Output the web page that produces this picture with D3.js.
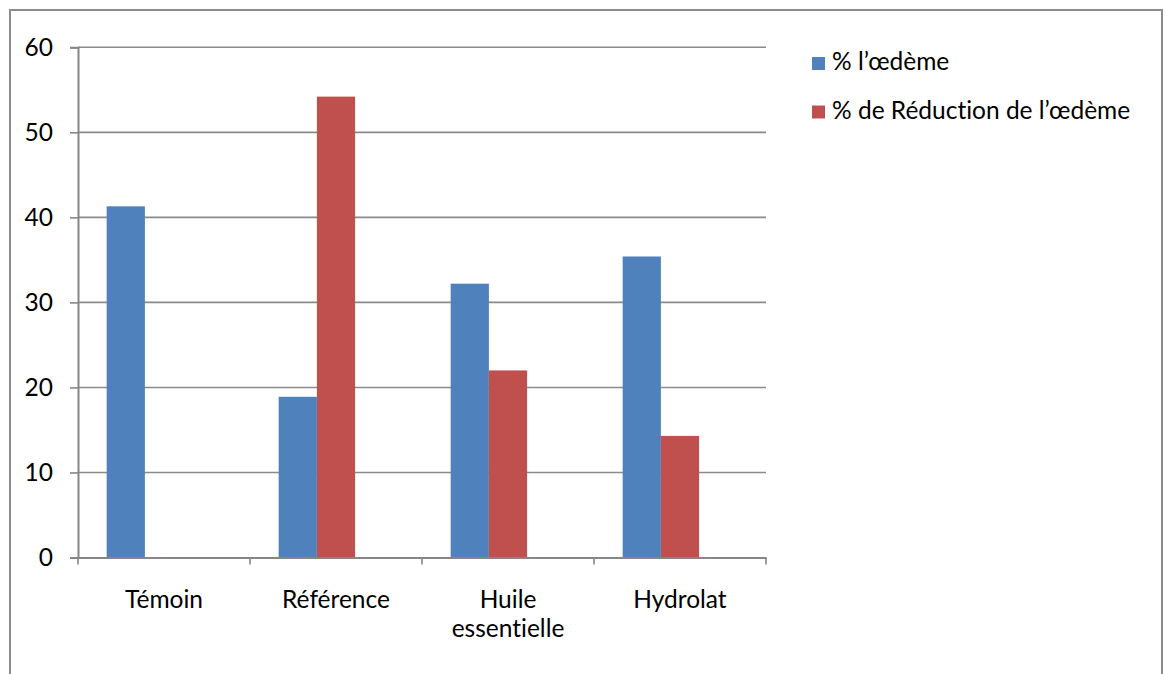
<!DOCTYPE html>
<html>
<head>
<meta charset="utf-8">
<script src="https://cdn.jsdelivr.net/npm/d3@7"></script>
<style>
  html, body { margin: 0; padding: 0; background: #fff; }
  svg { display: block; }
  text { font-family: Lato, "Open Sans", sans-serif; fill: #000; font-variant-ligatures: none; font-feature-settings: "liga" 0; }
</style>
</head>
<body>
<svg id="chart" width="1165" height="674"></svg>
<script>
// Data
const categories = ["Témoin", "Référence", "Huile essentielle", "Hydrolat"];
const seriesNames = ["% l’œdème", "% de Réduction de l’œdème"];
const oedeme = [41.3, 18.9, 32.2, 35.4];
const reduction = [0, 54.2, 22.0, 14.3];
const yTicks = [0, 10, 20, 30, 40, 50, 60];
const colors = ["#4F81BD", "#C0504D"];

const plot = { left: 78, right: 766, top: 47.3, bottom: 557.5 };
const fontSize = 24.5;

const svg = d3.select("#chart");

// Outer frame (bottom edge lies below the visible area)
svg.append("rect")
  .attr("x", 10).attr("y", 10)
  .attr("width", 1152).attr("height", 700)
  .attr("fill", "none").attr("stroke", "#8c8c8c").attr("stroke-width", 2);

const y = d3.scaleLinear().domain([0, 60]).range([plot.bottom, plot.top]);
const x0 = d3.scaleBand().domain(categories).range([plot.left, plot.right]).padding(0);
// Each cluster reserves three slots; two series are drawn
const x1 = d3.scaleBand().domain(d3.range(3)).range([0, x0.bandwidth()])
  .paddingInner(0).paddingOuter(0.75);

// Horizontal gridlines
svg.append("g")
  .selectAll("line").data(yTicks.filter(t => t > 0)).join("line")
  .attr("x1", plot.left).attr("x2", plot.right)
  .attr("y1", d => y(d)).attr("y2", d => y(d))
  .attr("stroke", "#8a8a8a").attr("stroke-width", 1.6);

// Y axis
const yAxis = svg.append("g")
  .attr("transform", `translate(${plot.left},0)`)
  .call(d3.axisLeft(y).tickValues(yTicks).tickSize(8).tickPadding(17));
yAxis.select(".domain").attr("stroke", "#868686").attr("stroke-width", 2);
yAxis.selectAll(".tick line").attr("stroke", "#868686").attr("stroke-width", 1.6);
yAxis.selectAll(".tick text")
  .style("font-family", "Lato, sans-serif")
  .attr("font-size", fontSize).attr("fill", "#000");

// Bars
const series = [oedeme, reduction];
series.forEach((vals, si) => {
  svg.append("g")
    .selectAll("rect").data(categories).join("rect")
    .attr("x", (c) => x0(c) + x1(si))
    .attr("width", x1.bandwidth())
    .attr("y", (c, i) => y(vals[i]))
    .attr("height", (c, i) => y(0) - y(vals[i]))
    .attr("fill", colors[si]);
});

// X axis
const xAxis = svg.append("g")
  .attr("transform", `translate(0,${plot.bottom})`)
  .call(d3.axisBottom(x0).tickSize(0).tickFormat(""));
xAxis.select(".domain").attr("stroke", "#868686").attr("stroke-width", 2);
xAxis.selectAll(".tick").remove();

// Category boundary ticks
const bounds = categories.map(c => x0(c)).concat([plot.right]);
svg.append("g")
  .selectAll("line").data(bounds).join("line")
  .attr("x1", d => d).attr("x2", d => d)
  .attr("y1", plot.bottom).attr("y2", plot.bottom + 7)
  .attr("stroke", "#868686").attr("stroke-width", 1.6);

// Category labels (wrapped onto two lines where long)
const labelLines = { "Huile essentielle": ["Huile", "essentielle"] };
categories.forEach(c => {
  const lines = labelLines[c] || [c];
  const cx = x0(c) + x0.bandwidth() / 2;
  const t = svg.append("text")
    .attr("x", cx)
    .attr("y", 608)
    .attr("text-anchor", "middle")
    .attr("font-size", fontSize);
  lines.forEach((l, i) => {
    t.append("tspan").attr("x", cx)
      .attr("dy", i === 0 ? 0 : 29).text(l);
  });
});

// Legend
const legend = svg.append("g");
seriesNames.forEach((name, i) => {
  const ly = 57 + i * 48.5;
  legend.append("rect")
    .attr("x", 812).attr("y", ly).attr("width", 13).attr("height", 13)
    .attr("fill", colors[i]);
  legend.append("text")
    .attr("x", 832).attr("y", ly + 13)
    .attr("font-size", fontSize)
    .text(name);
});
</script>
</body>
</html>
